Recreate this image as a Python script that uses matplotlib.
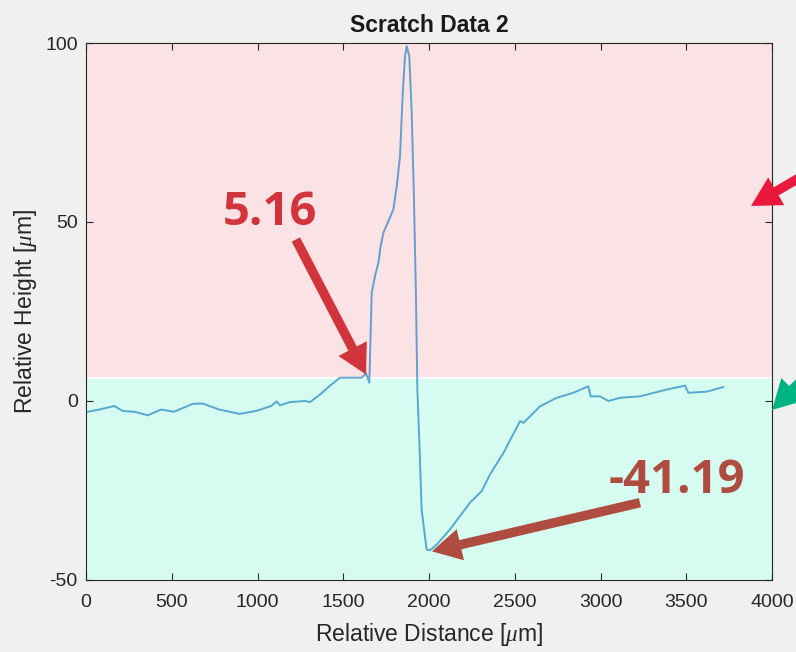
import matplotlib
matplotlib.use("Agg")
import matplotlib.pyplot as plt
import numpy as np

plt.rcParams['font.family'] = ['Liberation Sans', 'DejaVu Sans']
plt.rcParams['mathtext.fontset'] = 'custom'
plt.rcParams['mathtext.it'] = 'Liberation Serif:italic'
plt.rcParams['mathtext.rm'] = 'Liberation Sans'
plt.rcParams['axes.unicode_minus'] = False

# ---- data ----
dist = [0, 76, 165, 214, 282, 360, 437, 513, 622, 680, 778, 894, 991, 1079, 1112, 1131,
        1190, 1277, 1306, 1364, 1423, 1481, 1539, 1607, 1633, 1652,
        1666, 1685, 1705, 1718, 1734, 1763, 1792, 1812, 1831, 1846, 1860, 1870,
        1885, 1899, 1912, 1924, 1932, 1944, 1957, 1986, 2006, 2045, 2122, 2239,
        2307, 2356, 2434, 2531, 2551, 2647, 2745, 2842, 2929, 2943, 2997, 3046,
        3114, 3230, 3386, 3493, 3512, 3619, 3716]
height = [-3.1, -2.4, -1.4, -2.8, -3.0, -4.0, -2.4, -3.0, -0.8, -0.7, -2.4, -3.6, -2.8, -1.4, -0.1, -1.2,
          -0.3, 0.0, -0.3, 1.8, 4.3, 6.5, 6.5, 6.5, 7.7, 5.1,
          30.2, 34.9, 38.6, 43.2, 47.0, 50.2, 53.5, 60.0, 68.4, 85.1, 96.3, 99.1,
          96.3, 80.5, 57.2, 29.3, 3.2, -11.7, -30.3, -41.5, -41.7, -40.1, -35.9, -28.4,
          -25.2, -20.5, -14.5, -5.6, -6.1, -1.5, 0.9, 2.3, 4.1, 1.3, 1.3, 0.0,
          0.9, 1.3, 3.2, 4.3, 2.3, 2.6, 3.9]
threshold = 6.5
xticks = [0, 500, 1000, 1500, 2000, 2500, 3000, 3500, 4000]
yticks = [-50, 0, 50, 100]
label_high = "5.16"
label_low = "-41.19"

fig = plt.figure(figsize=(7.96, 6.52), dpi=100)
fig.patch.set_facecolor("#f0f0f0")
ax = fig.add_axes([86/796, 1-580/652, (772-86)/796, (580-43)/652])

ax.axhspan(-50, threshold, color="#d6fcf1", lw=0, zorder=0)
ax.axhspan(threshold, 100, color="#fbe2e5", lw=0, zorder=0)
ax.axhline(threshold, color="white", lw=1.2, zorder=1)

ax.plot(dist, height, color="#0072BD", alpha=0.6, lw=1.4, zorder=3)

ax.set_xlim(0, 4000)
ax.set_ylim(-50, 100)
ax.set_xticks(xticks)
ax.set_yticks(yticks)
ax.tick_params(direction="in", top=True, right=True, length=5, width=0.8,
               labelsize=14, colors="#262626")
ax.tick_params(axis="x", pad=10)
ax.tick_params(axis="y", pad=6)
for s in ax.spines.values():
    s.set_color("#262626")
    s.set_linewidth(0.8)
ax.set_title("Scratch Data 2", fontsize=16.5, fontweight="bold", color="#1a1a1a", pad=8)
ax.set_xlabel(r"Relative Distance [$\mu$m]", fontsize=16.5, color="#262626", labelpad=7)
ax.set_ylabel(r"Relative Height [$\mu$m]", fontsize=16.5, color="#262626", labelpad=4)

red = "#d1343a"
brown = "#b04b3f"
style = "simple,head_length=1.05,head_width=1.15,tail_width=0.34"
ax.annotate("", xy=(1633, 7.4), xytext=(1224, 45.1),
            arrowprops=dict(arrowstyle=style,
                            mutation_scale=20, color=red, lw=0, shrinkA=0, shrinkB=0), zorder=5)
ax.text(1073, 52.7, label_high, color=red, fontsize=34, fontweight="bold",
        family="Open Sans", ha="center", va="center", zorder=6)

ax.annotate("", xy=(2017, -42), xytext=(3230, -28.4),
            arrowprops=dict(arrowstyle=style,
                            mutation_scale=20, color=brown, lw=0, shrinkA=0, shrinkB=0), zorder=5)
ax.text(3446, -22.2, label_low, color=brown, fontsize=34, fontweight="bold",
        family="Open Sans", ha="center", va="center", zorder=6)

# edge arrows
ax.annotate("", xy=(751, 652-206), xycoords="figure pixels", xytext=(830, 652-160),
            textcoords="figure pixels", annotation_clip=False,
            arrowprops=dict(arrowstyle=style,
                            mutation_scale=20, color="#e8193c", lw=0, shrinkA=0, shrinkB=0))
ax.annotate("", xy=(772, 652-410), xycoords="figure pixels", xytext=(830, 652-352),
            textcoords="figure pixels", annotation_clip=False,
            arrowprops=dict(arrowstyle=style,
                            mutation_scale=20, color="#00b383", lw=0, shrinkA=0, shrinkB=0))

fig.savefig("out.png", dpi=100, facecolor=fig.get_facecolor())
